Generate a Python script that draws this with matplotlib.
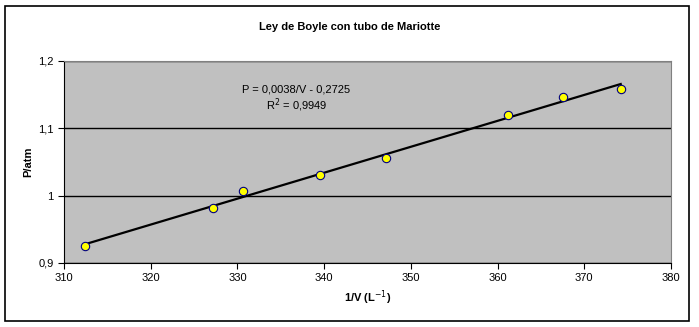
import numpy as np
import matplotlib.pyplot as plt
from matplotlib.patches import Rectangle

plt.rcParams['font.family'] = ['Liberation Sans', 'DejaVu Sans']

# datos
inv_v = [312.4, 327.2, 330.6, 339.5, 347.1, 361.2, 367.6, 374.2]
presion = [0.925, 0.982, 1.007, 1.031, 1.056, 1.120, 1.146, 1.159]
xticks = [310, 320, 330, 340, 350, 360, 370, 380]
yticks = [0.9, 1.0, 1.1, 1.2]
ytick_labels = ['0,9', '1', '1,1', '1,2']

fig = plt.figure(figsize=(6.99, 3.27), dpi=100)
fig.patches.append(Rectangle((5/699, 1-321/327), 684/699, 315/327,
                             transform=fig.transFigure, fill=False,
                             edgecolor='black', linewidth=1.2))

ax = fig.add_axes([64/699, 1-263/327, 607/699, 202/327])
ax.set_facecolor('#c0c0c0')

# linea de tendencia
m, b = np.polyfit(inv_v, presion, 1)
xs = np.array([min(inv_v), max(inv_v)])
ax.plot(xs, m*xs + b, color='black', linewidth=1.6, zorder=3)
ax.plot(inv_v, presion, 'o', markerfacecolor='#ffff00',
        markeredgecolor='#000080', markersize=6, markeredgewidth=0.8, zorder=4)

ax.set_xlim(310, 380)
ax.set_ylim(0.9, 1.2)
ax.set_xticks(xticks)
ax.set_yticks(yticks)
ax.set_yticklabels(ytick_labels)
ax.tick_params(direction='out', length=4, labelsize=8, width=0.8)
ax.yaxis.grid(True, color='black', linewidth=1)
ax.set_axisbelow(True)
for s in ['top', 'right']:
    ax.spines[s].set_color('#808080')

ax.set_xlabel('1/V (L$^{-1}$)', fontsize=8, fontweight='bold', va='center')
ax.xaxis.set_label_coords(0.5, -35/202)
ax.set_ylabel('P/atm', fontsize=8, fontweight='bold', va='center')
ax.yaxis.set_label_coords(-36/607, 0.5)
fig.text(0.5, 1-27/327, 'Ley de Boyle con tubo de Mariotte', ha='center',
         va='center', fontsize=8, fontweight='bold')

ax.text(336.8, 1.157, 'P = 0,0038/V - 0,2725', ha='center', va='center', fontsize=8)
ax.text(336.8, 1.135, 'R$^2$ = 0,9949', ha='center', va='center', fontsize=8)

plt.savefig('out.png', dpi=100)
